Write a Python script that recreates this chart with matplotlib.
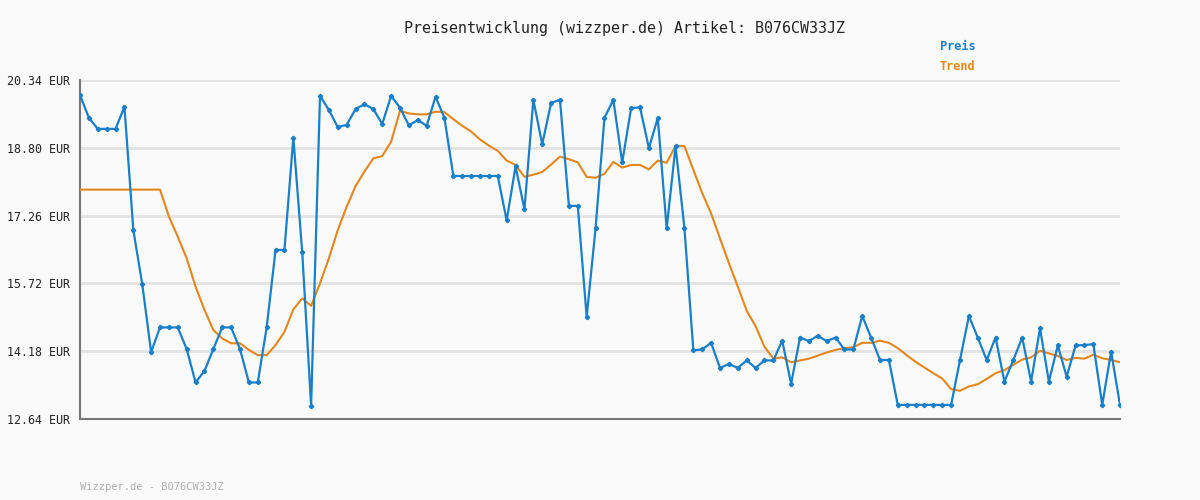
import matplotlib

matplotlib.use("Agg")
import matplotlib.pyplot as plt

# Preis in EUR
preis = [
    20.00, 19.48, 19.23, 19.23, 19.23, 19.73, 16.93, 15.71, 14.16, 14.72,
    14.72, 14.72, 14.23, 13.47, 13.73, 14.23, 14.72, 14.72, 14.23, 13.47,
    13.47, 14.72, 16.48, 16.48, 19.03, 16.43, 12.94, 19.98, 19.66, 19.27,
    19.32, 19.68, 19.79, 19.68, 19.34, 19.98, 19.71, 19.31, 19.43, 19.30,
    19.96, 19.48, 18.16, 18.16, 18.16, 18.16, 18.16, 18.16, 17.15, 18.38,
    17.40, 19.89, 18.88, 19.82, 19.89, 17.48, 17.48, 14.96, 16.97, 19.48,
    19.89, 18.47, 19.70, 19.72, 18.79, 19.48, 16.97, 18.83, 16.97, 14.20,
    14.22, 14.37, 13.80, 13.89, 13.80, 13.97, 13.80, 13.97, 13.97, 14.42,
    13.44, 14.49, 14.41, 14.53, 14.41, 14.49, 14.22, 14.22, 14.98, 14.49,
    13.98, 13.98, 12.96, 12.96, 12.96, 12.96, 12.96, 12.96, 12.96, 13.98,
    14.98, 14.49, 13.98, 14.49, 13.49, 13.98, 14.49, 13.49, 14.70, 13.49,
    14.31, 13.60, 14.31, 14.32, 14.34, 12.96, 14.17, 12.96,
]

trend = [
    17.85, 17.85, 17.85, 17.85, 17.85, 17.85, 17.85, 17.85, 17.85, 17.85,
    17.24, 16.78, 16.29, 15.65, 15.12, 14.66, 14.47, 14.36, 14.36, 14.21,
    14.09, 14.09, 14.32, 14.62, 15.13, 15.38, 15.21, 15.72, 16.29, 16.93,
    17.46, 17.93, 18.26, 18.56, 18.61, 18.94, 19.64, 19.58, 19.56, 19.56,
    19.62, 19.61, 19.45, 19.30, 19.17, 18.99, 18.85, 18.73, 18.51, 18.41,
    18.14, 18.19, 18.25, 18.42, 18.60, 18.54, 18.47, 18.14, 18.12, 18.21,
    18.48, 18.35, 18.41, 18.41, 18.31, 18.51, 18.46, 18.84, 18.84, 18.30,
    17.77, 17.31, 16.74, 16.18, 15.65, 15.10, 14.75, 14.28, 14.01, 14.04,
    13.93, 13.97, 14.01, 14.08, 14.15, 14.21, 14.25, 14.27, 14.37, 14.37,
    14.42, 14.37, 14.25, 14.09, 13.94, 13.81, 13.68, 13.56, 13.32, 13.28,
    13.38, 13.43, 13.55, 13.68, 13.75, 13.87, 13.99, 14.04, 14.19, 14.13,
    14.07, 13.98, 14.03, 14.01, 14.10, 14.02, 13.98, 13.93,
]

y_ticks = [12.64, 14.18, 15.72, 17.26, 18.80, 20.34]
title = "Preisentwicklung (wizzper.de) Artikel: B076CW33JZ"
footer = "Wizzper.de - B076CW33JZ"

BLUE = "#1a7fc9"
ORANGE = "#e3861c"
BG = "#fafafa"
MONO = "DejaVu Sans Mono"

fig = plt.figure(figsize=(12, 5), dpi=100, facecolor=BG)
ax = fig.add_axes([80 / 1200, 1 - 419 / 500, 1040 / 1200, 339 / 500], facecolor=BG)

x = range(len(preis))
ax.plot(range(len(trend)), trend, color=ORANGE, linewidth=1.5, zorder=3)
ax.plot(x, preis, color=BLUE, linewidth=1.6, marker="P", markersize=2.8, zorder=4)

ax.set_xlim(0, len(preis) - 1)
ax.set_ylim(y_ticks[0], y_ticks[-1])
ax.set_yticks(y_ticks)
ax.set_yticklabels([f"{v:.2f} EUR" for v in y_ticks], family=MONO, fontsize=8.4, color="#222")
ax.set_xticks([])
ax.tick_params(axis="y", length=0, pad=7)
ax.grid(axis="y", color="#e3e3e3", linewidth=2)
for s in ["top", "right"]:
    ax.spines[s].set_visible(False)
ax.spines["left"].set_color("#777")
ax.spines["left"].set_linewidth(1.5)
ax.spines["bottom"].set_color("#777")
ax.spines["bottom"].set_linewidth(1.5)

fig.text(0.52, 1 - 28 / 500, title, ha="center", va="center", family=MONO, fontsize=10.8, color="#222")
fig.text(940 / 1200, 1 - 47 / 500, "Preis", ha="left", va="center", family=MONO,
         fontsize=8.6, color=BLUE, fontweight="bold")
fig.text(940 / 1200, 1 - 67 / 500, "Trend", ha="left", va="center", family=MONO,
         fontsize=8.6, color=ORANGE, fontweight="bold")
fig.text(80 / 1200, 1 - 487 / 500, footer, ha="left", va="center", family=MONO,
         fontsize=7.5, color="#b0b0b0")

fig.savefig("out.png", dpi=100, facecolor=BG)
